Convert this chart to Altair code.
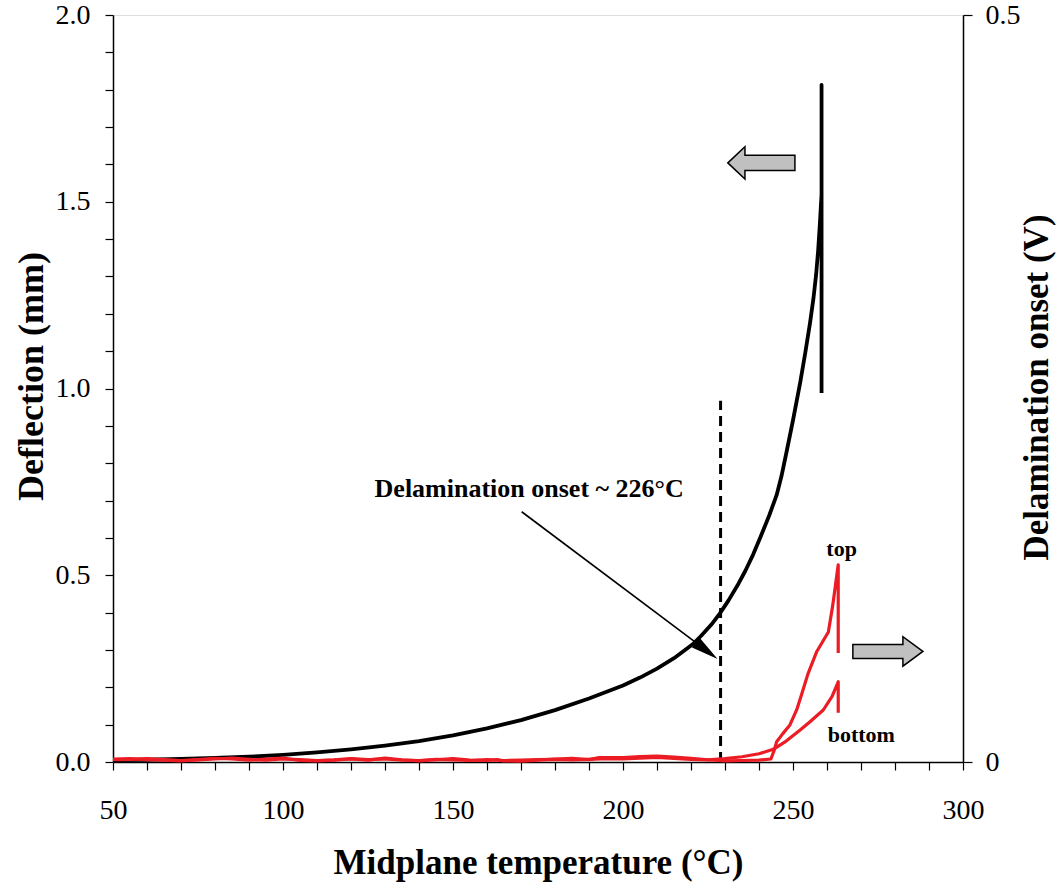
import altair as alt
import pandas as pd

# ---- data ----
defl_temp = [50, 60, 70, 80, 90, 100, 110, 120, 130, 140, 150, 160, 170, 180, 190,
             200, 205, 210, 215, 220.6, 223, 226, 228.5, 231, 234, 236, 238.3,
             240.5, 243, 245.2, 246.6, 248.1, 250, 252.1, 253.6, 255, 256, 256.8,
             257.4, 257.9, 258.4, 258.4, 258.4]
defl_mm = [0.005, 0.006, 0.008, 0.011, 0.014, 0.019, 0.026, 0.034, 0.044, 0.056, 0.071,
           0.090, 0.112, 0.139, 0.170, 0.205, 0.226, 0.250, 0.278, 0.316, 0.338, 0.368,
           0.398, 0.432, 0.478, 0.512, 0.556, 0.604, 0.660, 0.715, 0.765, 0.830, 0.915,
           1.015, 1.095, 1.175, 1.240, 1.305, 1.370, 1.440, 1.520, 1.813, 0.988]

top_temp = [50, 55, 60, 65, 70, 75, 80, 85, 90, 95, 100, 105, 110, 115, 120, 125, 130,
            135, 140, 145, 150, 155, 160, 163, 164.5, 170, 175, 180, 185, 190, 193, 200,
            205, 210, 215, 220, 225, 230, 235, 240, 243.5, 244.5, 245.2, 247, 249.1,
            251.1, 252.5, 254.4, 257, 260.4, 261.7, 263.3, 263.3]
top_v = [0.0020, 0.0022, 0.0015, 0.0012, 0.0008, 0.0016, 0.0025, 0.0020, 0.0012, 0.0020,
         0.0026, 0.0010, 0.0008, 0.0012, 0.0020, 0.0012, 0.0026, 0.0015, 0.0008, 0.0015,
         0.0022, 0.0012, 0.0010, 0.0016, 0.0008, 0.0005, 0.0012, 0.0020, 0.0024, 0.0016,
         0.0030, 0.0030, 0.0036, 0.0040, 0.0032, 0.0025, 0.0015, 0.0008, 0.0010, 0.0012,
         0.0020, 0.0080, 0.0136, 0.0190, 0.0248, 0.0350, 0.0450, 0.0590, 0.0740, 0.0870,
         0.1050, 0.1320, 0.0730]

bot_temp = [50, 55, 60, 65, 70, 75, 80, 85, 90, 95, 100, 105, 110, 115, 120, 125, 130,
            135, 140, 145, 150, 155, 160, 165, 170, 175, 180, 185, 190, 195, 200, 205,
            210, 215, 220, 225, 230, 235, 240, 244.2, 248, 252.1, 255, 258.9, 261.5,
            263.3, 263.3]
bot_v = [0.0015, 0.0018, 0.0022, 0.0016, 0.0010, 0.0014, 0.0020, 0.0026, 0.0018, 0.0012,
         0.0020, 0.0016, 0.0010, 0.0014, 0.0022, 0.0016, 0.0020, 0.0012, 0.0010, 0.0018,
         0.0014, 0.0010, 0.0016, 0.0010, 0.0012, 0.0016, 0.0018, 0.0014, 0.0018, 0.0022,
         0.0020, 0.0026, 0.0030, 0.0024, 0.0018, 0.0014, 0.0022, 0.0035, 0.0055, 0.0085,
         0.0140, 0.0214, 0.0270, 0.0348, 0.0440, 0.0537, 0.0330]

onset_temp = 228.7
onset_top = 0.967

ann_text = "Delamination onset ~ 226°C"
ann_pos = (172.4, 0.709)
ann_from = (170.2, 0.670)
ann_to = (224.6, 0.298)
ann_angle = 126.9

label_top = ("top", 264.3, 0.552)
label_bottom = ("bottom", 270.1, 0.054)

left_arrow_pos = (240.7, 1.604)
right_arrow_pos = (277.9, 0.296)

x_ticks = list(range(50, 301, 10))
y_ticks = [round(i * 0.1, 1) for i in range(21)]
y2_ticks = [0, 0.5]

FONT = "Liberation Serif"
RED = "#ec1c24"

# ---- encodings ----
x_axis = alt.Axis(values=x_ticks,
                  labelExpr="datum.value % 50 == 0 ? '' + datum.value : ''",
                  tickSize=8, tickColor="black", tickWidth=1.2,
                  domainColor="black", domainWidth=1.5,
                  labelFontSize=28, labelColor="black", labelPadding=48,
                  labelBaseline="alphabetic", labelFlush=False, labelOverlap=False,
                  title="Midplane temperature (°C)", titleFontSize=35,
                  titleFontWeight="bold", titleColor="black",
                  titleBaseline="alphabetic", titleAlign="center",
                  titleX=425, titleY=111, grid=False)
x_enc = alt.X("x:Q", scale=alt.Scale(domain=[50, 300], nice=False, zero=False), axis=x_axis)

y_axis = alt.Axis(values=y_ticks,
                  labelExpr="round(datum.value*10) % 5 == 0 ? format(datum.value, '.1f') : ''",
                  tickSize=8, tickColor="black", tickWidth=1.2,
                  domainColor="black", domainWidth=1.5,
                  labelFontSize=28, labelColor="black", labelPadding=15,
                  labelFlush=False, labelOverlap=False,
                  title="Deflection (mm)", titleFontSize=36, titleFontWeight="bold",
                  titleColor="black", titleAngle=270, titleAlign="center",
                  titleBaseline="alphabetic", titleX=-71, titleY=361, grid=False)
y_scale = alt.Scale(domain=[0, 2.0], nice=False, zero=False)


def y_enc(field="y"):
    return alt.Y(f"{field}:Q", scale=y_scale, axis=y_axis)


y2_axis = alt.Axis(values=y2_ticks, orient="right",
                   labelExpr="datum.value == 0 ? '0' : format(datum.value, '.1f')",
                   tickSize=9, tickColor="black", tickWidth=1.2,
                   domainColor="black", domainWidth=1.5,
                   labelFontSize=28, labelColor="black", labelPadding=13,
                   labelFlush=False, labelOverlap=False,
                   title="Delamination onset (V)", titleFontSize=35,
                   titleFontWeight="bold", titleColor="black", titleAngle=270,
                   titleAlign="center", titleBaseline="alphabetic",
                   titleX=84, titleY=372, grid=False)

# ---- left layers ----
df_defl = pd.DataFrame({"x": defl_temp, "y": defl_mm, "i": range(len(defl_temp))})
black = alt.Chart(df_defl).mark_line(color="black", strokeWidth=3.8, strokeJoin="round").encode(
    x=x_enc, y=y_enc(), order="i:Q")

df_onset = pd.DataFrame({"x": [onset_temp], "y": [0.0], "y2": [onset_top]})
dashed = alt.Chart(df_onset).mark_rule(color="black", strokeWidth=3, strokeDash=[10, 6]).encode(
    x=x_enc, y=y_enc(), y2="y2:Q")

df_arr = pd.DataFrame({"x": [ann_from[0]], "y": [ann_from[1]],
                       "x2": [ann_to[0]], "y2": [ann_to[1]]})
arrow_line = alt.Chart(df_arr).mark_rule(color="black", strokeWidth=1.6).encode(
    x=x_enc, y=y_enc(), x2="x2:Q", y2="y2:Q")

df_head = pd.DataFrame({"x": [ann_to[0]], "y": [ann_to[1]]})
arrow_head = alt.Chart(df_head).mark_point(
    shape="M0,-1L0.45,1L-0.45,1Z", angle=ann_angle, filled=True, color="black",
    opacity=1, size=750).encode(x=x_enc, y=y_enc())

df_ann = pd.DataFrame({"x": [ann_pos[0]], "y": [ann_pos[1]], "t": [ann_text]})
ann = alt.Chart(df_ann).mark_text(font=FONT, fontSize=26, fontWeight="bold",
                                  color="black", align="center", baseline="alphabetic").encode(
    x=x_enc, y=y_enc(), text="t:N")

df_lbl = pd.DataFrame({"x": [label_top[1], label_bottom[1]],
                       "y": [label_top[2], label_bottom[2]],
                       "t": [label_top[0], label_bottom[0]]})
lbls = alt.Chart(df_lbl).mark_text(font=FONT, fontSize=22, fontWeight="bold",
                                   color="black", align="center", baseline="alphabetic").encode(
    x=x_enc, y=y_enc(), text="t:N")

LEFT_ARROW = "M-1,0L-0.49,-0.48L-0.49,-0.23L1,-0.23L1,0.23L-0.49,0.23L-0.49,0.48Z"
RIGHT_ARROW = "M1,0L0.43,-0.42L0.43,-0.2L-1,-0.2L-1,0.2L0.43,0.2L0.43,0.42Z"

df_la = pd.DataFrame({"x": [left_arrow_pos[0]], "y": [left_arrow_pos[1]]})
left_arrow = alt.Chart(df_la).mark_point(
    shape=LEFT_ARROW, filled=True, fill="#c0c0c0", stroke="black", strokeWidth=1.5,
    opacity=1, size=4500).encode(x=x_enc, y=y_enc())

df_ra = pd.DataFrame({"x": [right_arrow_pos[0]], "y": [right_arrow_pos[1]]})
right_arrow = alt.Chart(df_ra).mark_point(
    shape=RIGHT_ARROW, filled=True, fill="#c0c0c0", stroke="black", strokeWidth=1.5,
    opacity=1, size=4900).encode(x=x_enc, y=y_enc())

left = alt.layer(dashed, black, arrow_line, arrow_head, ann, lbls, left_arrow, right_arrow)

# ---- right layer (red) ----
df_red = pd.concat([
    pd.DataFrame({"x": top_temp, "v": top_v, "s": "top", "i": range(len(top_temp))}),
    pd.DataFrame({"x": bot_temp, "v": bot_v, "s": "bottom", "i": range(len(bot_temp))}),
])
red = alt.Chart(df_red).mark_line(color=RED, strokeWidth=3.2, strokeJoin="round").encode(
    x=x_enc,
    y=alt.Y("v:Q", scale=alt.Scale(domain=[0, 0.5], nice=False, zero=False), axis=y2_axis),
    detail="s:N", order="i:Q")

chart = alt.layer(left, red).resolve_scale(y="independent").properties(
    width=850, height=747,
    padding={"left": 113, "top": 15, "right": 96, "bottom": 124},
    autosize=alt.AutoSizeParams(type="none"),
    background="white",
).configure_view(stroke="black", strokeWidth=1.5).configure(font=FONT)

chart.save("out.html", embed_options={"renderer": "svg", "actions": False})
